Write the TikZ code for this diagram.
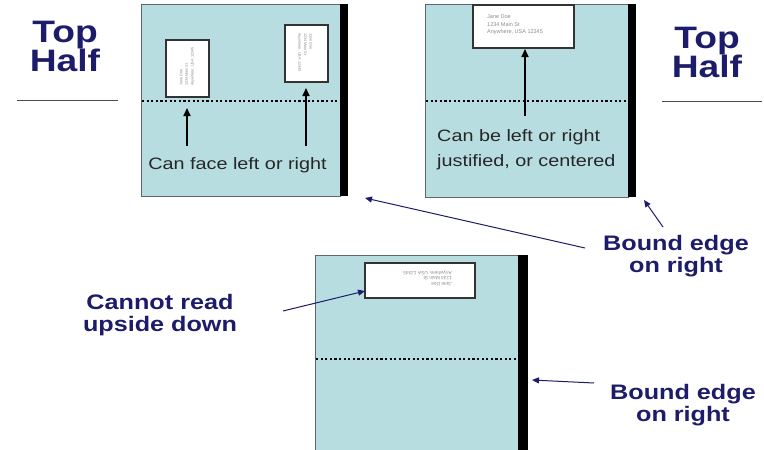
\documentclass[tikz,border=0pt]{standalone}
\usepackage{fontspec}
\setmainfont{Liberation Sans}
\usetikzlibrary{arrows.meta}
\definecolor{navy}{HTML}{1C1C6A}
\definecolor{pagefill}{HTML}{B8DDE1}
\definecolor{edgegray}{HTML}{5A6A6C}
\tikzset{
  page/.style={fill=pagefill, draw=edgegray, line width=0.7pt},
  bar/.style={fill=black, draw=none},
  fold/.style={line width=1.8pt, dash pattern=on 2.2pt off 2.4pt, black},
  envbox/.style={fill=white, draw=black!80, line width=1.1pt},
  addr/.style={font=\fontsize{3.8}{5.6}\selectfont, text=black!45, align=left, inner sep=0},
  bigtitle/.style={font=\bfseries\fontsize{31}{29}\selectfont, text=navy, align=center, xscale=1.2, inner sep=0},
  lbl/.style={font=\bfseries\fontsize{21}{22}\selectfont, text=navy, align=center, xscale=1.2, inner sep=0},
  note/.style={font=\fontsize{16.5}{25}\selectfont, text=black!85, xscale=1.2, inner sep=0},
  inarrow/.style={-{Triangle[length=8pt,width=7pt]}, line width=1.6pt, black},
  outarrow/.style={-{Triangle[length=7pt,width=6pt]}, line width=1pt, navy},
  rule/.style={line width=0.9pt, black!70}
}
\begin{document}
\begin{tikzpicture}[x=1pt,y=-1pt]
\useasboundingbox[fill=white] (0,0) rectangle (764,450);

% ---------- Page 1 (top left)
\draw[page] (141,4) rectangle (340,196);
\fill[bar] (340,4) rectangle (348,196);
\draw[fold] (142,101) -- (339,101);
\draw[envbox] (166,40) rectangle (209,97);
\node[addr, rotate=90, anchor=west] (a1) at (187,86) {Jane Doe\\1234 Main St\\Anywhere, USA 12345};
\draw[envbox] (285,25) rectangle (328,82);
\node[addr, rotate=-90, anchor=west] (a2) at (305,33) {Jane Doe\\1234 Main St\\Anywhere, USA 12345};
\coordinate (p1s) at (187,146);
\coordinate (p1t) at (187,108);
\coordinate (p2s) at (306,146);
\coordinate (p2t) at (306,88);
\draw[inarrow] (p1s) -- (p1t);
\draw[inarrow] (p2s) -- (p2t);
\node[note] (face) at (237.5,165) {Can face left or right};

% ---------- Page 2 (top right)
\draw[page] (425,4) rectangle (628,197);
\fill[bar] (628,4) rectangle (636,197);
\draw[fold] (426,101) -- (627,101);
\draw[envbox] (473,5) rectangle (574,48);
\node[addr, anchor=north west, font=\fontsize{5.5}{7.5}\selectfont] (a3) at (487,15) {Jane Doe\\1234 Main St\\Anywhere, USA 12345};
\coordinate (p3s) at (525,116);
\coordinate (p3t) at (525,49);
\draw[inarrow] (p3s) -- (p3t);
\node[note, anchor=west, align=left] (just) at (437,150) {Can be left or right\\justified, or centered};

% ---------- Page 3 (bottom)
\draw[page] (315,255) rectangle (518,452);
\fill[bar] (518,255) rectangle (528,452);
\draw[fold] (316,359) -- (517,359);
\draw[envbox] (365,263) rectangle (475,298);
\node[addr, rotate=180, anchor=west, font=\fontsize{4.8}{5.3}\selectfont] (a4) at (452,278) {Jane Doe\\1234 Main St\\Anywhere, USA 12345};

% ---------- Titles
\node[bigtitle] (th1) at (65,46) {Top\\Half};
\draw[rule] (17,100) -- (118,100);
\node[bigtitle] (th2) at (707,52) {Top\\Half};
\draw[rule] (662,101.5) -- (762,101.5);

% ---------- Labels and outer arrows
\node[lbl] (cannot) at (160,315) {Cannot read\\upside down};
\coordinate (c1s) at (283,311);
\coordinate (c1t) at (365,291);
\draw[outarrow] (c1s) -- (c1t);

\node[lbl] (bound1) at (676,256) {Bound edge\\on right};
\coordinate (b1s) at (663,227);
\coordinate (b1t) at (644,200);
\coordinate (b2s) at (585,248);
\coordinate (b2t) at (365,198);
\draw[outarrow] (b1s) -- (b1t);
\draw[outarrow] (b2s) -- (b2t);

\node[lbl] (bound2) at (683,405) {Bound edge\\on right};
\coordinate (b3s) at (594,383);
\coordinate (b3t) at (532,380);
\draw[outarrow] (b3s) -- (b3t);
\end{tikzpicture}
\end{document}
